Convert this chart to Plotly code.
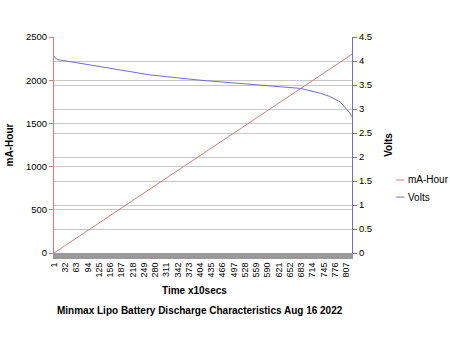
import plotly.graph_objects as go

# Data
time_idx_mah = [1, 404, 823]
mah_values = [0, 1125, 2300]

time_idx_volts = [1, 9, 59, 128, 211, 266, 404, 569, 680, 735, 762, 790, 809, 817, 823]
volts_values = [4.10, 4.03, 3.97, 3.88, 3.78, 3.71, 3.60, 3.50, 3.43, 3.33, 3.26, 3.15, 2.98, 2.92, 2.84]

x_tick_vals = list(range(1, 808, 31))
x_tick_text = [str(v) for v in x_tick_vals]

series_names = ["mA-Hour", "Volts"]

RED = "#e07a7a"
BLUE = "#7070cc"
GRID = "#c8c8c8"
FONT = "Liberation Sans, Arial, sans-serif"

fig = go.Figure()
fig.add_trace(go.Scatter(x=time_idx_mah, y=mah_values, mode="lines", name=series_names[0],
                         line=dict(color=RED, width=1), yaxis="y", showlegend=False))
fig.add_trace(go.Scatter(x=time_idx_volts, y=volts_values, mode="lines", name=series_names[1],
                         line=dict(color=BLUE, width=1), yaxis="y2", showlegend=False))

# Compact legend (short line swatches like the reference)
legend_shapes = []
legend_annots = []
for i, (name, col) in enumerate(zip(series_names, [RED, BLUE])):
    yy = 0.338 - i * 0.079
    legend_shapes.append(dict(type="line", xref="paper", yref="paper",
                              x0=1.148, x1=1.176, y0=yy, y1=yy,
                              line=dict(color=col, width=1)))
    legend_annots.append(dict(text=name, xref="paper", yref="paper", x=1.182, y=yy,
                              xanchor="left", yanchor="middle", showarrow=False,
                              font=dict(size=10)))

fig.update_layout(
    width=450, height=350,
    margin=dict(l=54, r=98, t=37, b=97, autoexpand=False),
    paper_bgcolor="white", plot_bgcolor="white",
    font=dict(family=FONT, size=9, color="#000000"),
    showlegend=False,
    xaxis=dict(range=[1, 823], tickmode="array", tickvals=x_tick_vals, ticktext=x_tick_text,
               tickangle=-90, showgrid=False, zeroline=False,
               showline=True, linecolor="#999999", linewidth=6,
               ticks="", tickfont=dict(size=9)),
    yaxis=dict(range=[0, 2500], dtick=500, showgrid=True, gridcolor=GRID, gridwidth=1,
               zeroline=False, showline=True, linecolor=RED, linewidth=1,
               ticks="outside", ticklen=4, tickcolor=RED, tickfont=dict(size=9.5),
               title=dict(text="<b>mA-Hour</b>", font=dict(size=10), standoff=10)),
    yaxis2=dict(range=[0, 4.5], dtick=0.5, overlaying="y", side="right",
                showgrid=True, gridcolor=GRID, gridwidth=1, zeroline=False,
                showline=True, linecolor=BLUE, linewidth=1,
                ticks="outside", ticklen=4, tickcolor=BLUE, tickfont=dict(size=9.5),
                title=dict(text="<b>Volts</b>", font=dict(size=10), standoff=13)),
    shapes=legend_shapes,
    annotations=[
        dict(text="<b>Time x10secs</b>", xref="paper", yref="paper", x=0.47, y=-0.175,
             xanchor="center", yanchor="middle", showarrow=False, font=dict(size=10)),
        dict(text="<b>Minmax Lipo Battery Discharge Characteristics Aug 16 2022</b>",
             xref="paper", yref="paper", x=0.49, y=-0.265, xanchor="center", yanchor="middle",
             showarrow=False, font=dict(size=10)),
    ] + legend_annots,
)

fig.write_html("out.html")
